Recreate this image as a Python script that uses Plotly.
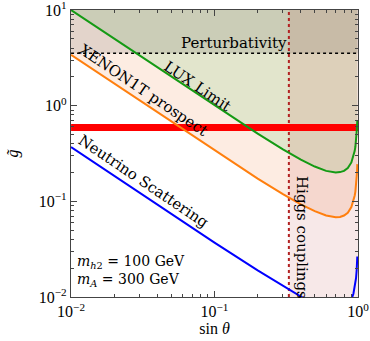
import plotly.graph_objects as go

# ---- data ----
sin_theta = [0.01, 0.02, 0.05, 0.1, 0.2, 0.3, 0.4, 0.5, 0.6, 0.7, 0.75, 0.8, 0.85,
             0.9, 0.93, 0.95, 0.96, 0.97, 0.98, 0.985, 0.99]
lux_limit = [10.0, 5.0, 2.0, 1.0, 0.51, 0.35, 0.273, 0.231, 0.208, 0.200, 0.202, 0.208, 0.223,
             0.255, 0.293, 0.337, 0.372, 0.424, 0.513, 0.588, 0.70]
xenon_prospect = [3.4, 1.7, 0.68, 0.34, 0.173, 0.119, 0.093, 0.079, 0.071, 0.068, 0.0686, 0.071, 0.076,
                  0.087, 0.100, 0.115, 0.1265, 0.144, 0.174, 0.200, 0.245]
neutrino_scattering = [0.37, 0.185, 0.074, 0.037, 0.019, 0.013, 0.0101, 0.0085, 0.0077, 0.0074, 0.0075,
                       0.0077, 0.0083, 0.0094, 0.0108, 0.0125, 0.0138, 0.0157, 0.019, 0.0218, 0.0265]
relic_coupling = 0.59          # red band
perturbativity = 3.54          # sqrt(4 pi)
higgs_coupling_limit = 0.33    # sin(theta) bound

x_range = [0.01, 1.0]
y_range = [0.01, 10.0]

x_tickvals = [0.01, 0.1, 1]
x_ticktext = ["10<sup>−2</sup>", "10<sup>−1</sup>", "10<sup>0</sup>"]
y_tickvals = [0.01, 0.1, 1, 10]
y_ticktext = ["10<sup>−2</sup>", "10<sup>−1</sup>", "10<sup>0</sup>", "10<sup>1</sup>"]
minor_x = [m * 10 ** e for e in (-2, -1) for m in range(2, 10)]
minor_y = [m * 10 ** e for e in (-2, -1, 0) for m in range(2, 10)]

FONT = "Liberation Serif"
LFONT = "DejaVu Serif"
EPS = 0.0005

fig = go.Figure()

# XENON1T region (above orange)
fig.add_trace(go.Scatter(
    x=sin_theta + [sin_theta[-1], sin_theta[0]],
    y=xenon_prospect + [y_range[1], y_range[1]],
    fill="toself", fillcolor="rgb(253,236,226)", mode="none", hoverinfo="skip"))
# LUX region (above green)
fig.add_trace(go.Scatter(
    x=sin_theta + [sin_theta[-1], sin_theta[0]],
    y=lux_limit + [y_range[1], y_range[1]],
    fill="toself", fillcolor="rgb(226,229,204)", mode="none", hoverinfo="skip"))
# Perturbativity overlay
fig.add_trace(go.Scatter(
    x=[x_range[0], x_range[1], x_range[1], x_range[0]],
    y=[perturbativity, perturbativity, y_range[1], y_range[1]],
    fill="toself", fillcolor="rgba(0,0,0,0.1)", mode="none", hoverinfo="skip"))
# Higgs couplings overlay
fig.add_trace(go.Scatter(
    x=[higgs_coupling_limit, x_range[1], x_range[1], higgs_coupling_limit],
    y=[y_range[0], y_range[0], y_range[1], y_range[1]],
    fill="toself", fillcolor="rgba(178,34,34,0.1)", mode="none", hoverinfo="skip"))

# boundary lines
fig.add_trace(go.Scatter(x=x_range, y=[perturbativity, perturbativity], mode="lines",
                         line=dict(color="black", width=1.6, dash="dot")))
fig.add_trace(go.Scatter(x=[higgs_coupling_limit, higgs_coupling_limit], y=y_range, mode="lines",
                         line=dict(color="rgb(178,34,34)", width=2, dash="dot")))
fig.add_trace(go.Scatter(x=x_range, y=[relic_coupling, relic_coupling], mode="lines",
                         line=dict(color="red", width=7)))
fig.add_trace(go.Scatter(x=sin_theta, y=lux_limit, mode="lines",
                         line=dict(color="#149a14", width=2)))
fig.add_trace(go.Scatter(x=sin_theta, y=xenon_prospect, mode="lines",
                         line=dict(color="#ff7f0e", width=2)))
fig.add_trace(go.Scatter(x=sin_theta, y=neutrino_scattering, mode="lines",
                         line=dict(color="blue", width=2)))

axis_common = dict(
    type="log", showgrid=False, zeroline=False, showline=True, linecolor="#444", linewidth=1.2,
    mirror="allticks", ticks="inside", ticklen=6, tickcolor="#444", tickwidth=1,
    tickfont=dict(family=FONT, size=16, color="black"), automargin=False,
    ticklabeloverflow="allow",
)
fig.update_xaxes(**axis_common, range=[-2 - EPS, 0 + EPS], tickmode="array", tickvals=x_tickvals,
                 ticktext=x_ticktext,
                 minor=dict(tickmode="array", tickvals=minor_x, ticks="inside", ticklen=3,
                            tickcolor="#444", showgrid=False),
                 title=dict(text="sin <i>θ</i>", font=dict(family=FONT, size=16, color="black"),
                            standoff=2))
fig.update_yaxes(**axis_common, range=[-2 - EPS, 1 + EPS], tickmode="array", tickvals=y_tickvals,
                 ticktext=y_ticktext,
                 minor=dict(tickmode="array", tickvals=minor_y, ticks="inside", ticklen=3,
                            tickcolor="#444", showgrid=False),
                 title=dict(text="<i>g̃</i>", font=dict(family=FONT, size=16, color="black"),
                            standoff=16))

lab = dict(family=LFONT, size=15, color="black")
L, R, T, B = 71, 12, 10, 44
W, H = 370, 341
pw, ph = W - L - R, H - T - B
ann = [
    dict(x=234, y=43, text="Perturbativity", textangle=0),
    dict(x=197, y=86, text="LUX Limit", textangle=34),
    dict(x=143, y=90, text="XENON1T prospect", textangle=34),
    dict(x=143, y=181, text="Neutrino Scattering", textangle=34),
    dict(x=302, y=237, text="Higgs couplings", textangle=90),
]
for a in ann:
    fig.add_annotation(x=(a["x"] - L) / pw, y=1 - (a["y"] - T) / ph, xref="paper", yref="paper",
                       text=a["text"], textangle=a["textangle"], showarrow=False,
                       font=lab, xanchor="center", yanchor="middle")
mfont = dict(family=LFONT, size=14, color="black")
fig.add_annotation(x=(75 - L) / pw, y=1 - (262 - T) / ph, xref="paper", yref="paper",
                   text="<i>m</i><sub><i>h</i>2</sub> = 100 GeV", showarrow=False,
                   font=mfont, xanchor="left", yanchor="middle")
fig.add_annotation(x=(75 - L) / pw, y=1 - (280 - T) / ph, xref="paper", yref="paper",
                   text="<i>m</i><sub><i>A</i></sub> = 300 GeV", showarrow=False,
                   font=mfont, xanchor="left", yanchor="middle")

fig.update_layout(
    width=W, height=H, margin=dict(l=L, r=R, t=T, b=B, autoexpand=False),
    plot_bgcolor="white", paper_bgcolor="white", showlegend=False,
    font=dict(family=FONT, color="black"),
)

fig.write_html("out.html", config={"displayModeBar": False},
               post_script="document.body.style.margin='0';document.body.style.overflow='hidden';")
